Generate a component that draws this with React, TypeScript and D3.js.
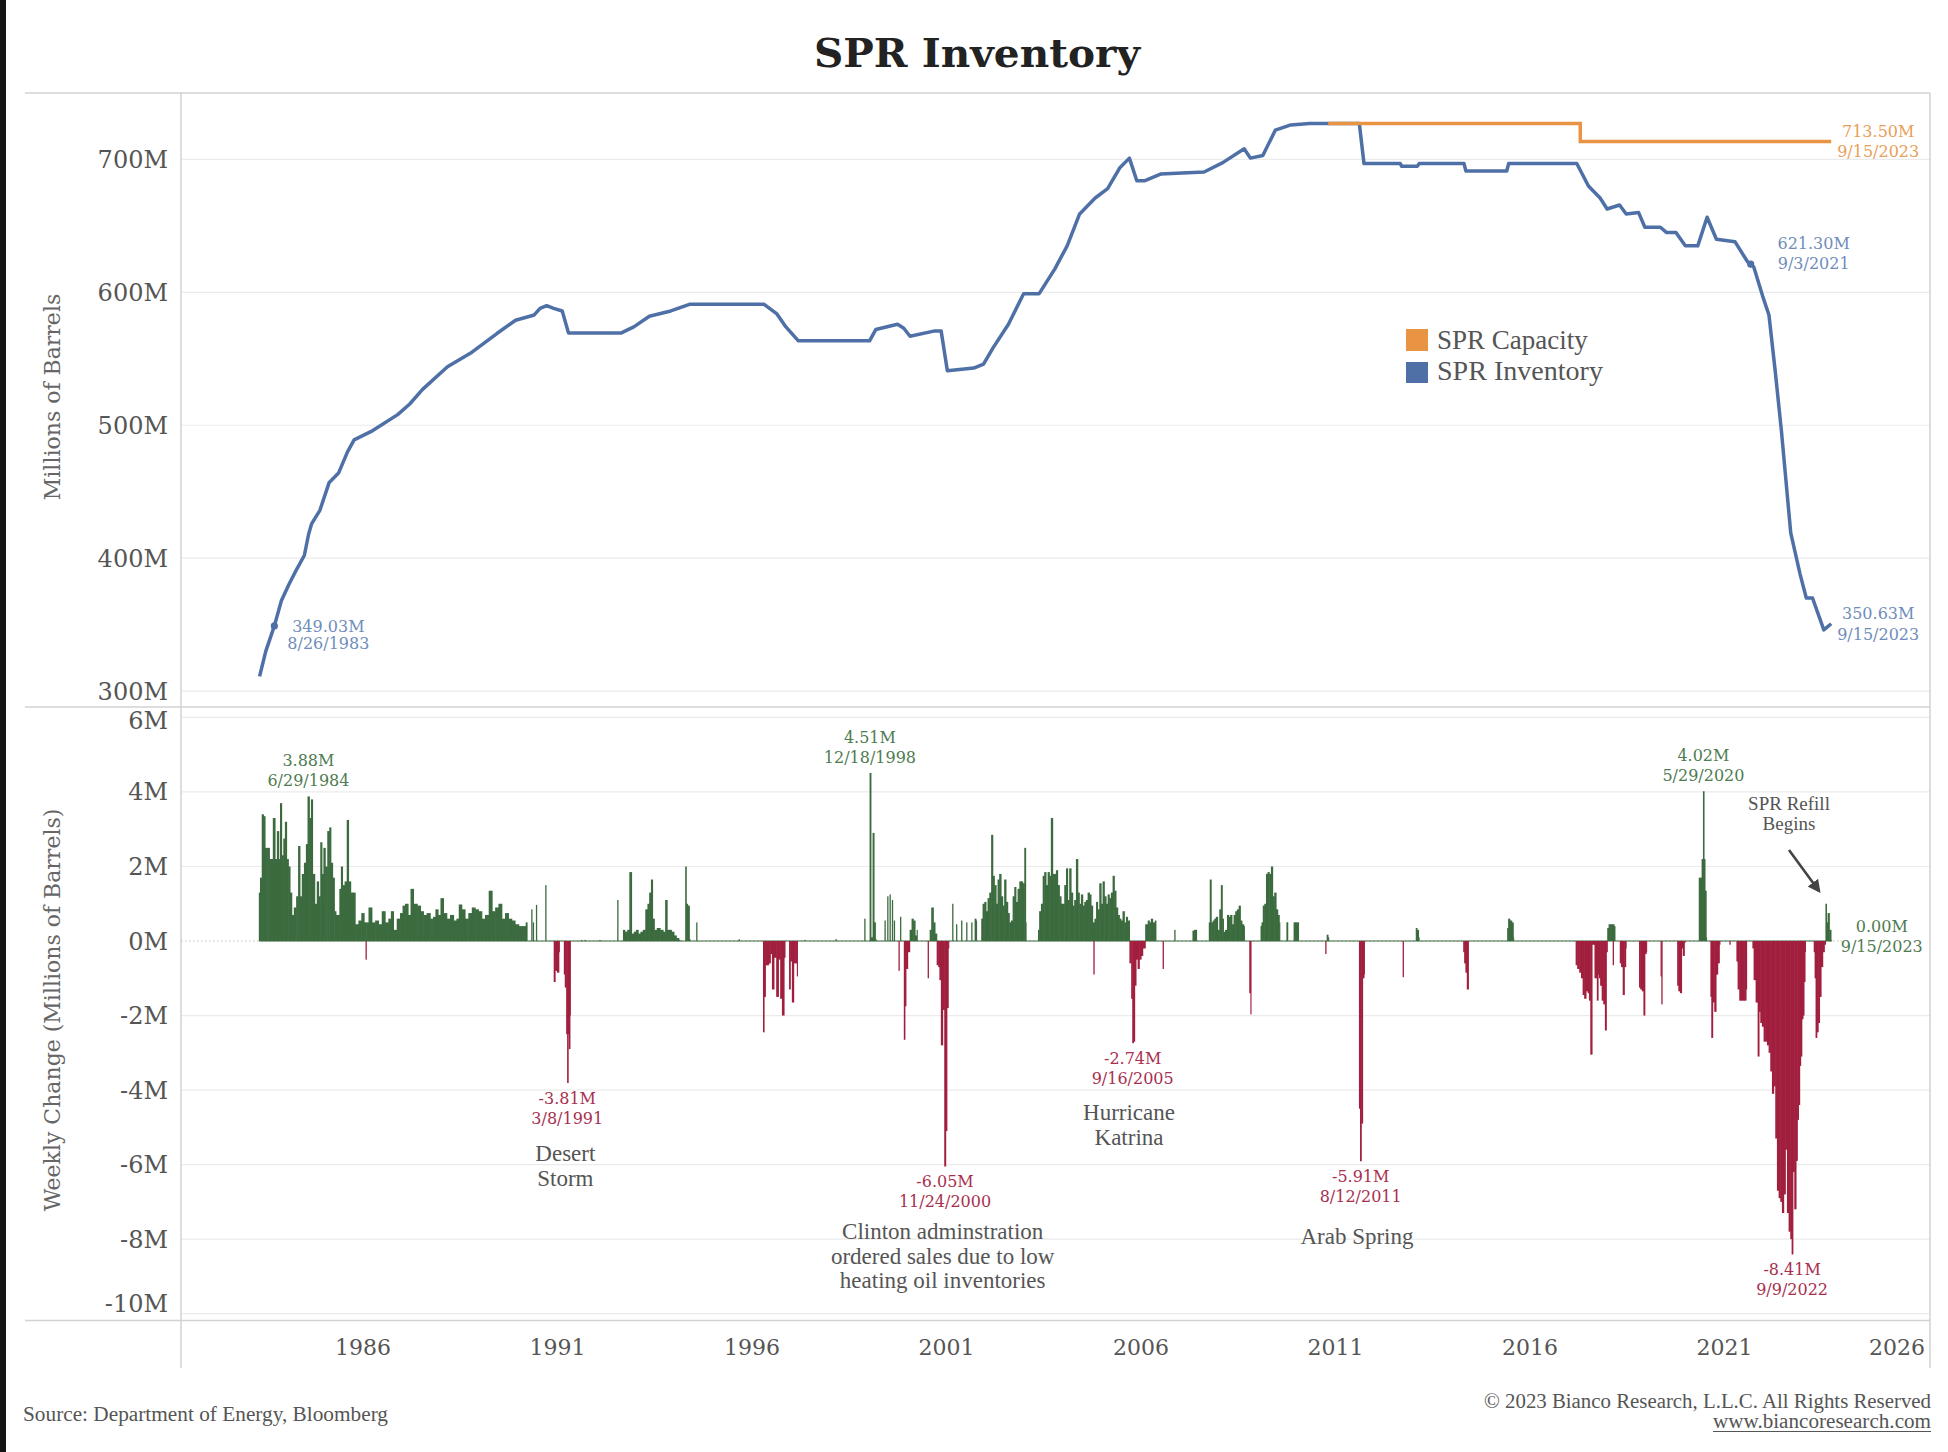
import React from "react";
import * as d3 from "d3";

// ---------- data ----------
const yearTicks = [1986, 1991, 1996, 2001, 2006, 2011, 2016, 2021, 2026];
const inventoryTicks = [300, 400, 500, 600, 700];
const changeTicks = [6, 4, 2, 0, -2, -4, -6, -8, -10];

// SPR inventory (millions of barrels), [decimal year, value]
const inventory: [number, number][] = [
  [1983.34, 311], [1983.5, 330], [1983.72, 349.03], [1983.9, 368], [1984.09, 380], [1984.3, 392],
  [1984.49, 402], [1984.6, 418], [1984.68, 426], [1984.89, 436], [1985.13, 457], [1985.37, 464],
  [1985.6, 480], [1985.77, 489], [1986.25, 496], [1986.89, 508], [1987.2, 516], [1987.53, 527],
  [1988.17, 544], [1988.8, 555], [1989.44, 569], [1989.92, 579], [1990.4, 583], [1990.55, 588],
  [1990.72, 590], [1990.9, 588], [1991.12, 586], [1991.28, 569.5], [1992.64, 569.5], [1992.96, 574],
  [1993.36, 582], [1993.91, 586], [1994.39, 591], [1996.31, 591], [1996.63, 584], [1996.87, 574],
  [1997.19, 563.5], [1999.02, 563.5], [1999.18, 572], [1999.74, 576], [1999.9, 573], [2000.06, 567],
  [2000.7, 571], [2000.86, 571], [2001.02, 541], [2001.7, 543], [2001.95, 546], [2002.19, 558],
  [2002.59, 576], [2002.98, 599], [2003.38, 599], [2003.78, 617.5], [2004.1, 635], [2004.42, 659],
  [2004.82, 671], [2005.14, 678], [2005.46, 694], [2005.7, 701], [2005.89, 684], [2006.1, 684],
  [2006.5, 689], [2007.62, 690.6], [2008.1, 697.6], [2008.65, 708], [2008.81, 701], [2009.13, 703],
  [2009.45, 722], [2009.85, 726], [2010.33, 727], [2011.61, 727], [2011.73, 697], [2012.66, 697],
  [2012.7, 694.8], [2013.1, 694.8], [2013.15, 697], [2014.3, 697], [2014.35, 691.3], [2015.4, 691.3],
  [2015.45, 697], [2017.2, 697], [2017.5, 680], [2017.8, 671], [2017.98, 662.7], [2018.3, 665.7],
  [2018.47, 659], [2018.79, 660], [2018.95, 649], [2019.35, 649], [2019.51, 645], [2019.75, 645],
  [2019.99, 635], [2020.31, 635], [2020.55, 656.5], [2020.79, 640], [2021.27, 638], [2021.59, 623],
  [2021.67, 621.3], [2021.75, 619], [2021.98, 597], [2022.14, 583], [2022.3, 541], [2022.46, 496],
  [2022.7, 419], [2022.94, 388], [2023.1, 370], [2023.26, 370], [2023.55, 346], [2023.74, 350.63],
];

// SPR capacity (step series)
const capacity: [number, number][] = [
  [2010.81, 727], [2017.29, 713.5], [2023.74, 713.5],
];

// Weekly change (millions of barrels): dense runs of consecutive weeks
const weeklyDense: [number, number][] = [
  [1983.33, 1.3], [1983.37, 1.7], [1983.42, 3.4], [1983.455, 3.35], [1983.5, 2.5], [1983.57, 2.5],
  [1983.61, 2.2], [1983.65, 2.2], [1983.71, 3.3], [1983.76, 2.2], [1983.81, 2.95], [1983.85, 2.2],
  [1983.88, 3.7], [1983.93, 2.3], [1983.97, 2.75], [1984.01, 3.2], [1984.055, 2.2], [1984.1, 2.0],
  [1984.14, 1.3], [1984.19, 0.7], [1984.25, 0.9], [1984.31, 1.2], [1984.35, 2.55], [1984.4, 1.2],
  [1984.45, 1.8], [1984.51, 2.1], [1984.55, 2.6], [1984.595, 3.88], [1984.64, 3.3], [1984.68, 3.8],
  [1984.72, 1.8], [1984.79, 1.0], [1984.83, 1.6], [1984.88, 1.2], [1984.92, 2.65], [1984.96, 1.8],
  [1985.0, 2.5], [1985.05, 2.0], [1985.11, 2.95], [1985.15, 3.05], [1985.19, 2.1], [1985.24, 1.7],
  [1985.28, 0.8], [1985.32, 0.7], [1985.37, 0.7], [1985.41, 1.4], [1985.45, 2.0], [1985.49, 1.5],
  [1985.56, 1.6], [1985.6, 3.25], [1985.65, 1.6], [1985.71, 1.3], [1985.75, 1.3],
  [1985.84, 0.45], [1985.92, 0.55], [1985.99, 0.75], [1986.06, 0.5], [1986.1, 0.5], [1986.18, 0.9],
  [1986.27, 0.5], [1986.35, 0.55], [1986.44, 0.45], [1986.52, 0.8], [1986.61, 0.5], [1986.69, 0.6],
  [1986.74, 0.8], [1986.82, 0.3], [1986.91, 0.6], [1986.99, 0.75], [1987.04, 0.95], [1987.12, 1.0],
  [1987.19, 0.7], [1987.25, 1.4], [1987.34, 1.0], [1987.44, 0.95], [1987.51, 0.8], [1987.59, 0.7],
  [1987.68, 0.75], [1987.77, 0.6], [1987.83, 0.65], [1987.89, 0.85], [1987.96, 0.7], [1988.02, 1.15],
  [1988.11, 0.75], [1988.19, 0.6], [1988.28, 0.7], [1988.37, 0.55], [1988.43, 0.6], [1988.49, 0.98],
  [1988.58, 0.85], [1988.66, 0.6], [1988.75, 0.75], [1988.84, 0.9], [1988.92, 0.85], [1989.01, 0.8],
  [1989.09, 0.6], [1989.18, 0.7], [1989.28, 1.35], [1989.35, 0.8], [1989.44, 0.9], [1989.52, 1.0],
  [1989.61, 0.6], [1989.69, 0.75], [1989.78, 0.6], [1989.86, 0.55], [1989.95, 0.45], [1990.05, 0.4],
  [1990.14, 0.4], [1990.22, 0.5],
  [1990.91, -1.1], [1990.96, -0.8], [1991.01, -0.85], [1991.05, -0.3],
  [1991.17, -0.9], [1991.2, -1.25], [1991.24, -2.5], [1991.25, -3.81], [1991.28, -2.5], [1991.3, -2.9], [1991.33, -2.0],
  [1992.69, 0.3], [1992.76, 0.25], [1992.82, 0.3], [1992.87, 1.85], [1992.93, 0.2], [1992.99, 0.25],
  [1993.04, 0.3], [1993.1, 0.2], [1993.16, 0.25], [1993.22, 0.3], [1993.29, 0.85], [1993.33, 1.0],
  [1993.38, 1.3], [1993.42, 1.65], [1993.46, 0.6], [1993.51, 0.3], [1993.59, 0.35], [1993.68, 0.3],
  [1993.74, 0.25], [1993.79, 1.1], [1993.84, 0.3], [1993.89, 0.3], [1993.96, 0.25], [1994.02, 0.15],
  [1994.08, 0.08], [1994.15, 0.03],
  [1994.29, 2.0], [1994.32, 1.0], [1994.36, 0.95], [1994.41, 0.05],
  [1996.29, -2.45], [1996.32, -1.5], [1996.36, -0.65], [1996.4, -0.65], [1996.445, -0.6], [1996.49, -0.35],
  [1996.53, -1.3], [1996.59, -0.45], [1996.65, -1.5], [1996.7, -0.5], [1996.745, -1.55], [1996.79, -2.0],
  [1996.85, -0.45], [1996.96, -1.3], [1997.0, -0.55], [1997.045, -1.65], [1997.09, -0.6], [1997.13, -0.6],
  [1997.17, -0.95],
  [1999.03, 4.51], [1999.076, 0.1], [1999.12, 2.9], [1999.145, 0.5], [1999.19, 0.05],
  [1999.91, -2.65], [1999.93, -1.75], [1999.975, -0.75], [2000.02, -0.3],
  [2000.08, 0.3], [2000.12, 0.6], [2000.165, 0.55], [2000.21, 0.15], [2000.25, 0.3],
  [2000.575, 0.3], [2000.635, 0.9], [2000.68, 0.5], [2000.72, 0.2],
  [2000.77, -0.65], [2000.8, -0.7], [2000.83, -1.05], [2000.875, -2.8], [2000.92, -1.85], [2000.96, -6.05],
  [2000.99, -5.1], [2001.02, -1.8], [2001.06, -0.2],
  [2001.73, 0.6], [2001.775, 0.55],
  [2001.9, 0.6], [2001.95, 1.0], [2001.99, 1.05], [2002.03, 0.8], [2002.075, 1.15], [2002.12, 1.3],
  [2002.17, 2.85], [2002.2, 1.75], [2002.25, 1.5], [2002.29, 1.0], [2002.33, 1.65], [2002.375, 1.8],
  [2002.42, 1.2], [2002.46, 0.95], [2002.5, 1.65], [2002.55, 1.05], [2002.59, 0.75], [2002.63, 0.5],
  [2002.675, 0.55], [2002.72, 1.2], [2002.76, 1.45], [2002.8, 1.05], [2002.85, 1.4], [2002.89, 1.6],
  [2002.93, 1.6], [2002.975, 1.55], [2003.02, 2.5], [2003.04, 0.5],
  [2003.36, 0.3], [2003.4, 0.8], [2003.45, 1.0], [2003.49, 1.75], [2003.53, 1.85], [2003.575, 1.5],
  [2003.62, 1.85], [2003.66, 1.75], [2003.7, 3.3], [2003.75, 1.8], [2003.79, 1.8], [2003.83, 1.9],
  [2003.875, 1.5], [2003.92, 1.2], [2003.96, 1.0], [2004.0, 1.0], [2004.05, 1.5], [2004.09, 1.95],
  [2004.13, 1.1], [2004.175, 1.95], [2004.22, 1.3], [2004.26, 0.95], [2004.3, 1.1], [2004.35, 2.2],
  [2004.39, 1.3], [2004.43, 1.0], [2004.475, 1.25], [2004.52, 0.95], [2004.56, 1.05], [2004.6, 1.1],
  [2004.65, 1.3], [2004.69, 1.25], [2004.73, 0.95], [2004.775, 0.5], [2004.825, 0.6], [2004.86, 1.05],
  [2004.9, 0.85], [2004.95, 1.55], [2004.99, 1.0], [2005.03, 1.6], [2005.075, 1.2], [2005.12, 1.0],
  [2005.16, 1.25], [2005.2, 1.15], [2005.245, 1.3], [2005.29, 1.75], [2005.33, 1.35], [2005.375, 0.9],
  [2005.42, 0.7], [2005.46, 0.6], [2005.5, 0.55], [2005.545, 0.8], [2005.59, 0.5], [2005.63, 0.65],
  [2005.67, 0.55],
  [2005.73, -0.6], [2005.76, -1.55], [2005.785, -2.74], [2005.82, -2.7], [2005.845, -1.2], [2005.89, -0.5],
  [2005.93, -0.75], [2005.975, -0.5], [2006.02, -0.4], [2006.06, -0.2],
  [2006.15, 0.45], [2006.19, 0.55], [2006.23, 0.5], [2006.27, 0.6], [2006.32, 0.5], [2006.385, 0.55],
  [2007.33, 0.28], [2007.39, 0.3], [2007.43, 0.3],
  [2007.75, 0.5], [2007.78, 1.65], [2007.82, 0.5], [2007.86, 0.55], [2007.9, 0.6], [2007.94, 0.65],
  [2007.99, 0.3], [2008.03, 0.85], [2008.07, 1.5], [2008.1, 0.6], [2008.13, 0.25], [2008.185, 0.3],
  [2008.23, 0.7], [2008.27, 0.65], [2008.31, 0.7], [2008.355, 0.45], [2008.4, 0.7], [2008.44, 0.8],
  [2008.485, 0.85], [2008.53, 0.95], [2008.57, 0.55], [2008.61, 0.45], [2008.66, 0.4],
  [2008.79, -1.4], [2008.83, -1.97],
  [2009.08, 0.4], [2009.11, 0.5], [2009.145, 0.95], [2009.19, 1.0], [2009.23, 1.8], [2009.27, 1.85],
  [2009.315, 1.8], [2009.36, 2.0], [2009.4, 1.2], [2009.445, 1.3], [2009.49, 0.85], [2009.53, 0.7],
  [2009.57, 0.5],
  [2009.745, 0.5], [2009.77, 0.5],
  [2009.93, 0.5], [2009.975, 0.5], [2010.02, 0.5], [2010.05, 0.5],
  [2010.78, 0.17], [2010.825, 0.1],
  [2011.61, -4.5], [2011.646, -5.91], [2011.67, -4.9], [2011.715, -1.0], [2011.74, -0.9],
  [2013.07, 0.35], [2013.11, 0.3], [2013.15, 0.1],
  [2014.29, -0.3], [2014.32, -0.6], [2014.355, -0.85], [2014.39, -1.3], [2014.41, -1.3],
  [2015.42, 0.35], [2015.45, 0.6], [2015.5, 0.55], [2015.55, 0.5], [2015.58, 0.1],
  [2017.18, -0.65], [2017.24, -0.75], [2017.285, -0.85], [2017.33, -1.0], [2017.37, -1.45], [2017.41, -1.55],
  [2017.46, -1.35], [2017.5, -1.4], [2017.525, -1.6], [2017.57, -3.05], [2017.61, -0.1],
  [2017.7, -1.0], [2017.73, -1.6], [2017.76, -0.9], [2017.78, -1.0], [2017.82, -1.2], [2017.86, -1.6],
  [2017.9, -1.7], [2017.945, -2.4], [2017.97, -0.3],
  [2017.995, 0.35], [2018.04, 0.45], [2018.08, 0.45], [2018.125, 0.45], [2018.185, 0.4],
  [2018.315, -0.6], [2018.36, -0.7], [2018.4, -1.45], [2018.44, -0.7], [2018.47, -0.2],
  [2018.81, -1.25], [2018.85, -1.3], [2018.896, -1.35], [2018.93, -2.0], [2018.965, -0.35], [2019.0, -0.3],
  [2019.79, -1.2], [2019.83, -1.35], [2019.873, -1.4], [2019.91, -0.2], [2019.94, -0.4], [2019.985, -0.05],
  [2020.345, 1.7], [2020.387, 1.7], [2020.43, 2.2], [2020.456, 4.02], [2020.48, 2.2], [2020.507, 1.35], [2020.54, 0.1],
  [2020.644, -1.5], [2020.67, -2.6], [2020.713, -1.65], [2020.755, -1.9], [2020.8, -0.9], [2020.84, -0.6], [2020.884, -0.1],
  [2021.313, -0.55], [2021.355, -1.3], [2021.398, -1.6], [2021.44, -1.6], [2021.484, -1.6], [2021.527, -1.6], [2021.57, -1.3],
  [2021.724, -0.2], [2021.767, -1.05], [2021.827, -1.65], [2021.87, -3.1], [2021.895, -1.9], [2021.938, -2.2],
  [2021.98, -2.3], [2022.024, -2.7], [2022.067, -2.7], [2022.11, -2.8], [2022.152, -3.0], [2022.195, -3.5],
  [2022.238, -4.1], [2022.28, -3.9], [2022.324, -5.3], [2022.366, -6.7], [2022.41, -6.9], [2022.452, -7.0],
  [2022.495, -7.3], [2022.538, -6.8], [2022.58, -5.6], [2022.624, -7.3], [2022.666, -7.8], [2022.71, -8.0],
  [2022.735, -8.41], [2022.77, -6.2], [2022.812, -7.2], [2022.855, -5.9], [2022.88, -4.8], [2022.915, -4.4],
  [2022.94, -3.35], [2022.966, -3.1], [2023.0, -2.1], [2023.026, -2.0], [2023.05, -1.1], [2023.08, -0.3],
  [2023.3, -0.3], [2023.326, -1.0], [2023.35, -2.6], [2023.386, -2.45], [2023.42, -2.2], [2023.455, -1.5],
  [2023.5, -0.7], [2023.54, -0.3], [2023.583, -0.1],
  [2023.6, 1.0], [2023.626, 0.5], [2023.67, 0.75], [2023.71, 0.3], [2023.755, 0.0],
];

// Weekly change: isolated single weeks
const weeklySpikes: [number, number][] = [
  [1986.08, -0.5], [1990.34, 0.85], [1990.38, 0.5], [1990.46, 0.97], [1990.7, 1.5], [1991.62, 0.03],
  [1991.71, 0.03], [1992.09, 0.03], [1992.55, 1.1], [1994.58, 0.5], [1995.67, 0.05], [1997.36, 0.03],
  [1998.16, 0.05], [1998.9, 0.6], [1999.42, 0.55], [1999.49, 1.2], [1999.55, 1.25], [1999.61, 1.1],
  [1999.66, 0.55], [1999.78, -0.8], [1999.82, 0.65], [2000.53, -1.0], [2001.16, 1.0], [2001.26, 0.45],
  [2001.39, 0.55], [2001.52, 0.5], [2001.65, 0.5], [2004.79, -0.9], [2006.57, -0.75], [2006.87, 0.3],
  [2010.75, -0.35], [2012.74, -0.97], [2018.14, -0.65], [2019.37, -0.95], [2019.39, -1.7], [2021.14, -0.1],
];

// Annotated points
const inventoryNotes = [
  { year: 1983.72, value: 349.03, label: "349.03M", date: "8/26/1983", dx: 54, dy1: 6, dy2: 23, color: "#6f8dbb", dot: true },
  { year: 2021.67, value: 621.3, label: "621.30M", date: "9/3/2021", dx: 63, dy1: -15, dy2: 5, color: "#6f8dbb", dot: true },
  { year: 2023.74, value: 350.63, label: "350.63M", date: "9/15/2023", dx: 47, dy1: -5, dy2: 16, color: "#6f8dbb", dot: false },
];
const capacityNote = { year: 2023.74, value: 713.5, label: "713.50M", date: "9/15/2023" };

const changeNotes = [
  { year: 1984.595, value: 3.88, label: "3.88M", date: "6/29/1984" },
  { year: 1999.03, value: 4.51, label: "4.51M", date: "12/18/1998" },
  { year: 2020.456, value: 4.02, label: "4.02M", date: "5/29/2020" },
  { year: 1991.25, value: -3.81, label: "-3.81M", date: "3/8/1991" },
  { year: 2000.96, value: -6.05, label: "-6.05M", date: "11/24/2000" },
  { year: 2005.785, value: -2.74, label: "-2.74M", date: "9/16/2005" },
  { year: 2011.646, value: -5.91, label: "-5.91M", date: "8/12/2011" },
  { year: 2022.735, value: -8.41, label: "-8.41M", date: "9/9/2022" },
];

const eventNotes = [
  { year: 1991.2, lines: ["Desert", "Storm"], y0: 1161 },
  { year: 2000.9, lines: ["Clinton adminstration", "ordered sales due to low", "heating oil inventories"], y0: 1239 },
  { year: 2005.69, lines: ["Hurricane", "Katrina"], y0: 1120 },
  { year: 2011.55, lines: ["Arab Spring"], y0: 1244 },
];

// ---------- component ----------
const GEO = "'DejaVu Serif', Georgia, serif";
const NARROW = "'Liberation Serif', 'Times New Roman', serif";

const BLUE = "#4e70a6";
const ORANGE = "#e99442";
const GREEN = "#3b6b3e";
const RED = "#a11f3e";
const GREEN_TXT = "#4f7b52";
const RED_TXT = "#a8304f";
const GRID = "#ebebeb";
const FRAME = "#d2d2d2";
const TXT = "#555";

export default function App() {
  const W = 1948;
  const H = 1452;
  const L = 181;
  const R = 1930;
  const T = 93;
  const MID = 707;
  const B = 1320;
  const AXIS_BOTTOM = 1368;

  const x = d3.scaleLinear().domain([1981.32, 2026.28]).range([L, R]);
  const yInv = d3.scaleLinear().domain([288, 750]).range([MID, T]);
  const yChg = d3.scaleLinear().domain([-10.17, 6.28]).range([B, MID]);
  const y0 = yChg(0);

  const invLine = d3
    .line<[number, number]>()
    .x((d) => x(d[0]))
    .y((d) => yInv(d[1]))
    .curve(d3.curveLinear);
  const capLine = d3
    .line<[number, number]>()
    .x((d) => x(d[0]))
    .y((d) => yInv(d[1]))
    .curve(d3.curveStepAfter);

  const WEEK = 7 / 365.25;
  const GAP = 0.101;
  const denseBars = weeklyDense.map((d, i) => {
    const prev = weeklyDense[i - 1];
    const next = weeklyDense[i + 1];
    const joinNext = !!next && next[0] - d[0] <= GAP;
    const left = prev && d[0] - prev[0] <= GAP ? (prev[0] + d[0]) / 2 : d[0] - WEEK / 2;
    const right = joinNext ? (next[0] + d[0]) / 2 : d[0] + WEEK / 2;
    const x0 = x(left);
    const w = Math.max(1, x(right) - x0) + (joinNext ? 0.6 : 0);
    return { x0, w, v: d[1] };
  });
  const spikeBars = weeklySpikes.map((d) => ({ x0: x(d[0]) - 0.65, w: 1.3, v: d[1] }));

  const barRect = (b: { x0: number; w: number; v: number }, i: number, key: string) => {
    const yv = yChg(b.v);
    const h = Math.max(0.8, Math.abs(yv - y0));
    return (
      <rect
        key={key + i}
        x={b.x0}
        y={b.v >= 0 ? y0 - h : y0}
        width={b.w}
        height={h}
        fill={b.v >= 0 ? GREEN : RED}
      />
    );
  };

  const first = weeklyDense[0][0];
  const last = weeklyDense[weeklyDense.length - 1][0];

  return (
    <svg
      width={W}
      height={H}
      viewBox={`0 0 ${W} ${H}`}
      style={{ position: "absolute", left: 0, top: 0, background: "#fff" }}
    >
      <defs>
        <marker id="arrowHead" viewBox="0 0 10 10" refX="8" refY="5" markerWidth="5" markerHeight="5" orient="auto">
          <path d="M0,0 L10,5 L0,10 z" fill="#444" />
        </marker>
      </defs>
      <rect x={0} y={0} width={W} height={H} fill="#fff" />
      <rect x={0} y={0} width={6} height={H} fill="#141414" />

      {/* Title */}
      <text
        x={977}
        y={67}
        textAnchor="middle"
        fontFamily={GEO}
        fontWeight="bold"
        fontSize={40}
        fill="#222"
        textLength={326}
        lengthAdjust="spacingAndGlyphs"
      >
        SPR Inventory
      </text>

      {/* Gridlines */}
      {inventoryTicks.map((t) => (
        <line key={"gi" + t} x1={L} x2={R} y1={yInv(t)} y2={yInv(t)} stroke={GRID} strokeWidth={1.2} />
      ))}
      {changeTicks
        .filter((t) => t !== 0)
        .map((t) => (
          <line key={"gc" + t} x1={L} x2={R} y1={yChg(t)} y2={yChg(t)} stroke={GRID} strokeWidth={1.2} />
        ))}

      {/* Frame */}
      <line x1={25} x2={R} y1={T} y2={T} stroke={FRAME} strokeWidth={1.5} />
      <line x1={25} x2={R} y1={MID} y2={MID} stroke={FRAME} strokeWidth={1.5} />
      <line x1={25} x2={R} y1={B + 0.5} y2={B + 0.5} stroke={FRAME} strokeWidth={1.5} />
      <line x1={L} x2={L} y1={T} y2={AXIS_BOTTOM} stroke={FRAME} strokeWidth={1.5} />
      <line x1={R} x2={R} y1={T} y2={AXIS_BOTTOM} stroke={FRAME} strokeWidth={1.5} />

      {/* Y tick labels */}
      {inventoryTicks.map((t) => (
        <text key={"ti" + t} x={168} y={yInv(t) + 8.5} textAnchor="end" fontFamily={GEO} fontSize={24} fill={TXT}>
          {t}M
        </text>
      ))}
      {changeTicks.map((t) => (
        <text
          key={"tc" + t}
          x={168}
          y={t === -10 ? yChg(t) - 1.5 : t === 6 ? yChg(t) + 12 : yChg(t) + 8.5}
          textAnchor="end"
          fontFamily={GEO}
          fontSize={24}
          fill={TXT}
        >
          {t}M
        </text>
      ))}

      {/* X tick labels */}
      {yearTicks.map((t, i) => {
        const isLast = i === yearTicks.length - 1;
        const px = x(t);
        const clamp = isLast && px + 28 > R;
        return (
          <text
            key={"ty" + t}
            x={clamp ? R - 5 : px}
            y={1355}
            textAnchor={clamp ? "end" : "middle"}
            fontFamily={GEO}
            fontSize={22}
            fill={TXT}
          >
            {t}
          </text>
        );
      })}

      {/* Axis titles */}
      <text transform="translate(60,397) rotate(-90)" textAnchor="middle" fontFamily={GEO} fontSize={22} fill="#666">
        Millions of Barrels
      </text>
      <text transform="translate(60,1010) rotate(-90)" textAnchor="middle" fontFamily={GEO} fontSize={22} fill="#666">
        Weekly Change (Millions of Barrels)
      </text>

      {/* Upper panel lines */}
      <path d={invLine(inventory) || ""} fill="none" stroke={BLUE} strokeWidth={3.5} strokeLinejoin="round" />
      <path d={capLine(capacity) || ""} fill="none" stroke={ORANGE} strokeWidth={3.5} />
      {inventoryNotes
        .filter((n) => n.dot)
        .map((n) => (
          <circle key={"dot" + n.label} cx={x(n.year)} cy={yInv(n.value)} r={3.6} fill={BLUE} />
        ))}
      {inventoryNotes.map((n) => (
        <g key={"in" + n.label} fontFamily={GEO} fontSize={16} fill={n.color} textAnchor="middle">
          <text x={x(n.year) + n.dx} y={yInv(n.value) + n.dy1}>
            {n.label}
          </text>
          <text x={x(n.year) + n.dx} y={yInv(n.value) + n.dy2}>
            {n.date}
          </text>
        </g>
      ))}
      <g fontFamily={GEO} fontSize={16} fill="#e8a059" textAnchor="middle">
        <text x={x(capacityNote.year) + 47} y={yInv(capacityNote.value) - 5}>
          {capacityNote.label}
        </text>
        <text x={x(capacityNote.year) + 47} y={yInv(capacityNote.value) + 15}>
          {capacityNote.date}
        </text>
      </g>

      {/* Legend */}
      <rect x={1406} y={329} width={22} height={22} fill={ORANGE} />
      <rect x={1406} y={362} width={22} height={21} fill={BLUE} />
      <text x={1437} y={349} fontFamily={NARROW} fontSize={27} fill={TXT}>
        SPR Capacity
      </text>
      <text x={1437} y={380} fontFamily={NARROW} fontSize={27} fill={TXT} textLength={166} lengthAdjust="spacingAndGlyphs">
        SPR Inventory
      </text>

      {/* Lower panel: zero line */}
      <line x1={L} x2={1842} y1={y0} y2={y0} stroke="#bdbdbd" strokeWidth={1} strokeDasharray="1.5,2.5" />
      <line x1={x(first)} x2={x(last)} y1={y0} y2={y0} stroke={GREEN} strokeWidth={1.2} />

      {/* Bars */}
      {denseBars.map((b, i) => barRect(b, i, "d"))}
      {spikeBars.map((b, i) => barRect(b, i, "s"))}

      {/* Bar annotations */}
      {changeNotes.map((n) => {
        const px = x(n.year);
        const py = yChg(n.value);
        const pos = n.value >= 0;
        return (
          <g key={"cn" + n.label} fontFamily={GEO} fontSize={16} fill={pos ? GREEN_TXT : RED_TXT} textAnchor="middle">
            <text x={px} y={pos ? py - 30 : py + 21}>
              {n.label}
            </text>
            <text x={px} y={pos ? py - 10 : py + 41}>
              {n.date}
            </text>
          </g>
        );
      })}
      {eventNotes.map((e) => (
        <g key={"ev" + e.lines[0]} fontFamily={NARROW} fontSize={23} fill={TXT} textAnchor="middle">
          {e.lines.map((l, j) => (
            <text key={l} x={x(e.year)} y={e.y0 + j * 24.5}>
              {l}
            </text>
          ))}
        </g>
      ))}

      {/* SPR refill note */}
      <g fontFamily={NARROW} fontSize={19} fill={TXT} textAnchor="middle">
        <text x={1789} y={810}>SPR Refill</text>
        <text x={1789} y={830}>Begins</text>
      </g>
      <line x1={1789} y1={850} x2={1819} y2={891} stroke="#444" strokeWidth={2.6} markerEnd="url(#arrowHead)" />
      <g fontFamily={GEO} fontSize={16} fill={GREEN_TXT} textAnchor="middle">
        <text x={x(last) + 50} y={932}>
          0.00M
        </text>
        <text x={x(last) + 50} y={952}>
          9/15/2023
        </text>
      </g>

      {/* Footer */}
      <text x={23} y={1421} fontFamily={NARROW} fontSize={20.5} fill={TXT} textLength={365} lengthAdjust="spacingAndGlyphs">
        Source: Department of Energy, Bloomberg
      </text>
      <text x={1931} y={1408} textAnchor="end" fontFamily={NARROW} fontSize={20.5} fill={TXT} textLength={447} lengthAdjust="spacingAndGlyphs">
        © 2023 Bianco Research, L.L.C. All Rights Reserved
      </text>
      <text x={1931} y={1428} textAnchor="end" fontFamily={NARROW} fontSize={20.5} fill={TXT} textLength={218} lengthAdjust="spacingAndGlyphs">
        www.biancoresearch.com
      </text>
      <line x1={1713} x2={1931} y1={1431.5} y2={1431.5} stroke={TXT} strokeWidth={1} />
    </svg>
  );
}
